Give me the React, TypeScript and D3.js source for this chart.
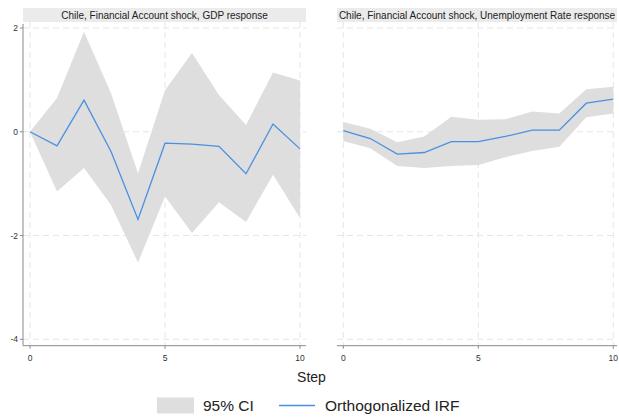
import React from 'react';
import * as d3 from 'd3';

const steps = [0, 1, 2, 3, 4, 5, 6, 7, 8, 9, 10];

// GDP response
const gdpIrf = [0, -0.27, 0.61, -0.38, -1.69, -0.22, -0.24, -0.28, -0.81, 0.15, -0.33];
const gdpUpper = [0, 0.65, 1.93, 0.74, -0.8, 0.8, 1.52, 0.71, 0.13, 1.14, 0.99];
const gdpLower = [0, -1.15, -0.7, -1.41, -2.52, -1.25, -1.95, -1.36, -1.74, -0.83, -1.66];

// Unemployment rate response
const unIrf = [0.02, -0.13, -0.43, -0.4, -0.19, -0.19, -0.09, 0.03, 0.03, 0.55, 0.63];
const unUpper = [0.19, 0.06, -0.2, -0.09, 0.29, 0.23, 0.24, 0.39, 0.35, 0.82, 0.87];
const unLower = [-0.18, -0.32, -0.66, -0.7, -0.66, -0.64, -0.49, -0.37, -0.29, 0.28, 0.35];

const titles = [
  'Chile, Financial Account shock, GDP response',
  'Chile, Financial Account shock, Unemployment Rate response',
];
const yTicks = [2, 0, -2, -4];
const xTicks = [0, 5, 10];

const W = 619;
const H = 419;
const bandColor = '#dedede';
const lineColor = '#4a90e2';
const axisColor = '#8a8a8a';
const gridColor = '#e6e6e6';
const font = 'Arial, "Liberation Sans", sans-serif';

const y = d3.scaleLinear().domain([-4, 2]).range([339.3, 28]);

const panels = [
  { left: 23, right: 306, x0: 30, x10: 300, irf: gdpIrf, up: gdpUpper, lo: gdpLower, title: titles[0], showY: true },
  { left: 337, right: 617, x0: 343.3, x10: 613.3, irf: unIrf, up: unUpper, lo: unLower, title: titles[1], showY: false },
];

const top = 22;
const axisY = 345.7;

function Panel({ p }: { p: any }) {
  const x = d3.scaleLinear().domain([0, 10]).range([p.x0, p.x10]);
  const area = d3.area<number>()
    .x((d, i) => x(steps[i]))
    .y0((d, i) => y(p.lo[i]))
    .y1((d) => y(d));
  const line = d3.line<number>()
    .x((d, i) => x(steps[i]))
    .y((d) => y(d));
  return (
    <g>
      <rect x={p.left} y={8} width={p.right - p.left} height={top - 8} fill="#ebebeb" />
      <text x={(p.left + p.right) / 2} y={18.7} textAnchor="middle" fontSize={10} fill="#222" fontFamily={font}>
        {p.title}
      </text>
      {yTicks.map((t) => (
        <line key={'gy' + t} x1={p.left} x2={p.right} y1={y(t)} y2={y(t)} stroke={gridColor} strokeWidth={1} strokeDasharray="6,4" />
      ))}
      {xTicks.map((t) => (
        <line key={'gx' + t} x1={x(t)} x2={x(t)} y1={top} y2={axisY} stroke={gridColor} strokeWidth={1} strokeDasharray="6,4" />
      ))}
      <path d={area(p.up) || ''} fill={bandColor} />
      <path d={line(p.irf) || ''} fill="none" stroke={lineColor} strokeWidth={1.3} />
      <line x1={p.left} x2={p.right} y1={axisY} y2={axisY} stroke={axisColor} strokeWidth={1} />
      {xTicks.map((t) => (
        <g key={'xt' + t}>
          <line x1={x(t)} x2={x(t)} y1={axisY} y2={axisY + 3} stroke={axisColor} />
          <text x={x(t)} y={361} textAnchor="middle" fontSize={8.5} fill="#333" fontFamily={font}>{t}</text>
        </g>
      ))}
      {p.showY && (
        <g>
          <line x1={p.left} x2={p.left} y1={top + 2} y2={axisY} stroke={axisColor} strokeWidth={1} />
          {yTicks.map((t) => (
            <g key={'yt' + t}>
              <line x1={p.left - 3} x2={p.left} y1={y(t)} y2={y(t)} stroke={axisColor} />
              <text x={p.left - 5} y={y(t) + 3} textAnchor="end" fontSize={8.5} fill="#333" fontFamily={font}>{t}</text>
            </g>
          ))}
        </g>
      )}
    </g>
  );
}

export default function App() {
  return (
    <svg width={W} height={H} style={{ position: 'absolute', left: 0, top: 0, background: '#fff' }}>
      {panels.map((p, i) => (
        <Panel key={i} p={p} />
      ))}
      <text x={311.5} y={382} textAnchor="middle" fontSize={14} fill="#222" fontFamily={font}>Step</text>
      <rect x={157} y={397.5} width={37} height={16} fill={bandColor} />
      <text x={203} y={410.5} fontSize={15.5} fill="#222" fontFamily={font}>95% CI</text>
      <line x1={279} x2={315} y1={405.5} y2={405.5} stroke={lineColor} strokeWidth={1.3} />
      <text x={325} y={410.5} fontSize={15.5} fill="#222" fontFamily={font}>Orthogonalized IRF</text>
    </svg>
  );
}
